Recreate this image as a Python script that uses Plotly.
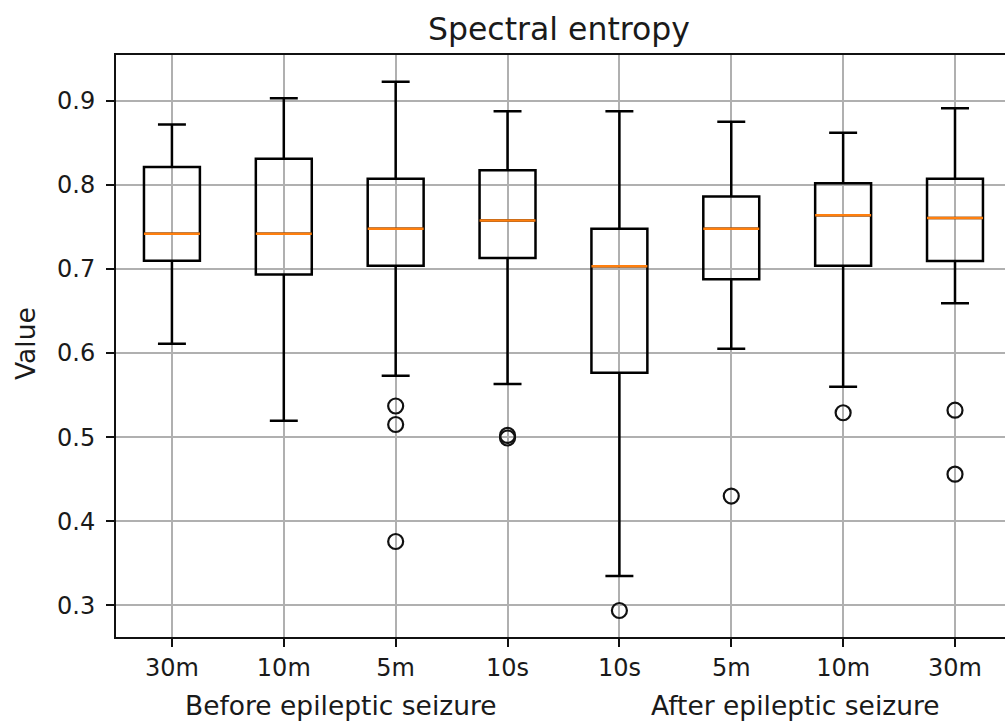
import plotly.graph_objects as go

# ---- data ----
tick_labels = ["30m", "10m", "5m", "10s", "10s", "5m", "10m", "30m"]
positions = [1, 2, 3, 4, 5, 6, 7, 8]
lower_whisker = [0.611, 0.5195, 0.573, 0.563, 0.335, 0.605, 0.560, 0.659]
q1_vals = [0.7095, 0.6934, 0.7036, 0.7128, 0.5765, 0.6876, 0.7036, 0.7094]
median_vals = [0.7416, 0.7416, 0.7477, 0.7574, 0.7031, 0.7477, 0.7637, 0.7603]
q3_vals = [0.821, 0.8307, 0.8069, 0.8171, 0.7477, 0.786, 0.8016, 0.8069]
upper_whisker = [0.8715, 0.9027, 0.9223, 0.8874, 0.8874, 0.8748, 0.8617, 0.8908]
outliers = [
    [],
    [],
    [0.537, 0.515, 0.376],
    [0.502, 0.499],
    [0.294],
    [0.430],
    [0.529],
    [0.532, 0.456],
]

BOX_W = 0.5
FONT = "DejaVu Sans"
TXT = "#1a1a1a"

fig = go.Figure()

fig.add_trace(go.Box(
    x=positions,
    q1=q1_vals, median=median_vals, q3=q3_vals,
    lowerfence=lower_whisker, upperfence=upper_whisker,
    width=BOX_W, whiskerwidth=0.5,
    fillcolor="rgba(0,0,0,0)",
    line=dict(color="black", width=2.5),
    boxpoints=False,
    hoverinfo="skip",
    showlegend=False,
))

# orange median lines
for p, m in zip(positions, median_vals):
    fig.add_trace(go.Scatter(
        x=[p - BOX_W / 2, p + BOX_W / 2], y=[m, m],
        mode="lines", line=dict(color="#ff7f0e", width=2.5),
        hoverinfo="skip", showlegend=False,
    ))

# outliers (fliers)
ox, oy = [], []
for p, vals in zip(positions, outliers):
    for v in vals:
        ox.append(p)
        oy.append(v)
fig.add_trace(go.Scatter(
    x=ox, y=oy, mode="markers",
    marker=dict(symbol="circle-open", size=15, color="#111111",
                line=dict(width=2.2, color="#111111")),
    hoverinfo="skip", showlegend=False,
))

axis_common = dict(
    showgrid=True, gridcolor="#b0b0b0", gridwidth=1.8,
    showline=True, linecolor="#111111", linewidth=2,
    ticks="outside", ticklen=8, tickwidth=2, tickcolor="#111111",
    tickfont=dict(family=FONT, size=24, color=TXT),
    zeroline=False,
)

fig.update_layout(
    width=1005, height=722,
    margin=dict(l=116, r=0, t=55, b=85, pad=0),
    plot_bgcolor="white", paper_bgcolor="white",
    font=dict(family=FONT, color=TXT),
    boxmode="overlay",
    xaxis=dict(
        range=[0.5, 8.447],
        tickmode="array", tickvals=positions, ticktext=tick_labels,
        mirror=True,
        **axis_common,
    ),
    yaxis=dict(
        range=[0.2625, 0.9541],
        tickmode="array",
        tickvals=[0.3, 0.4, 0.5, 0.6, 0.7, 0.8, 0.9],
        ticktext=["0.3", "0.4", "0.5", "0.6", "0.7", "0.8", "0.9"],
        mirror=False,
        ticklabelstandoff=6,
        **axis_common,
    ),
    annotations=[
        dict(text="Spectral entropy", x=0.4985, y=1.045, xref="paper", yref="paper",
             xanchor="center", yanchor="middle", showarrow=False,
             font=dict(family=FONT, size=31.5, color=TXT)),
        dict(text="Before epileptic seizure", x=0.2535, y=-0.118, xref="paper", yref="paper",
             xanchor="center", yanchor="middle", showarrow=False,
             font=dict(family=FONT, size=26.5, color=TXT)),
        dict(text="After epileptic seizure", x=0.7638, y=-0.118, xref="paper", yref="paper",
             xanchor="center", yanchor="middle", showarrow=False,
             font=dict(family=FONT, size=26.5, color=TXT)),
        dict(text="Value", x=-0.1025, y=0.505, xref="paper", yref="paper",
             xanchor="center", yanchor="middle", showarrow=False, textangle=-90,
             font=dict(family=FONT, size=26.5, color=TXT)),
    ],
)

fig.write_html(
    "out.html",
    config={"displayModeBar": False},
    post_script="document.body.style.margin='0';document.documentElement.style.overflow='hidden';document.body.style.overflow='hidden';",
)
